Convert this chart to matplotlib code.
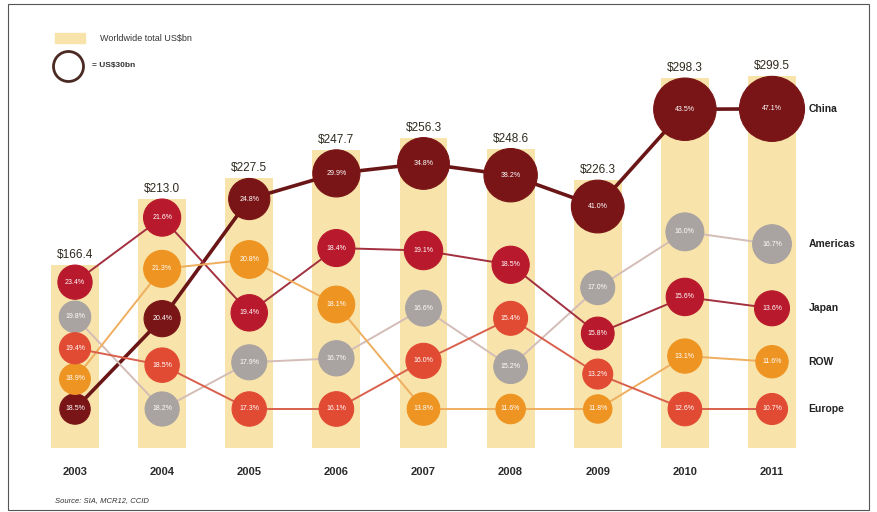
import numpy as np
import matplotlib
matplotlib.use('Agg')
import matplotlib.pyplot as plt
from matplotlib.patches import Rectangle

plt.rcParams['font.family'] = ['Liberation Sans', 'DejaVu Sans']

years = ['2003', '2004', '2005', '2006', '2007', '2008', '2009', '2010', '2011']
totals = [166.4, 213.0, 227.5, 247.7, 256.3, 248.6, 226.3, 298.3, 299.5]

# market share (%) by region
china = [18.5, 20.4, 24.8, 29.9, 34.8, 38.2, 41.0, 43.5, 47.1]
americas = [19.8, 18.2, 17.9, 16.7, 16.6, 15.2, 17.0, 16.0, 16.7]
japan = [23.4, 21.6, 19.4, 18.4, 19.1, 18.5, 15.8, 15.6, 13.6]
row = [18.9, 21.3, 20.8, 18.1, 13.8, 11.6, 11.8, 13.1, 11.6]
europe = [19.4, 18.5, 17.3, 16.1, 16.0, 15.4, 13.2, 12.6, 10.7]

regions = ['China', 'Americas', 'Japan', 'ROW', 'Europe']
shares = {'China': china, 'Americas': americas, 'Japan': japan,
          'ROW': row, 'Europe': europe}
colors = {'China': '#7A1517', 'Americas': '#A9A3A1', 'Japan': '#B9192C',
          'ROW': '#EE9422', 'Europe': '#E24B33'}
line_colors = {'China': '#6B1616', 'Americas': '#D3BDB6', 'Japan': '#A3303F',
               'ROW': '#EFAE5E', 'Europe': '#D9604C'}

W, H, DPI = 877, 512, 100
fig = plt.figure(figsize=(W / DPI, H / DPI), dpi=DPI)
ax = fig.add_axes([0, 64 / H, 1, 448 / H])

# layout: pixels per x unit / per US$bn
px_x, x0 = 87.125, 75
px_bn, base = 1.418, 37.4
ax.set_xlim(-x0 / px_x, (W - x0) / px_x)
ax.set_ylim(base, base + 448 / px_bn)
ax.axis('off')

x = np.arange(len(years))
ax.bar(x, totals, width=0.55, color='#F8E3AA', zorder=1)

# bubble area proportional to US$bn; legend circle = US$30bn
r30 = 15.0
s30 = (2 * r30 * 72 / DPI) ** 2

ycent = {r: np.zeros(len(years)) for r in regions}
for i in range(len(years)):
    vals = np.array([shares[r][i] for r in regions])
    order = np.argsort(-vals, kind='stable')
    bn = vals * totals[i] / 100
    rpx = r30 * np.sqrt(bn / 30)
    top = totals[i] - rpx[order[0]] / px_bn
    bot = base + 39 / px_bn
    sv = vals[order]
    gaps = sv[:-1] + sv[1:]
    pos = top - np.concatenate([[0], np.cumsum(gaps)]) / gaps.sum() * (top - bot)
    for k, j in enumerate(order):
        ycent[regions[j]][i] = pos[k]

for r in regions:
    lw = 2.6 if r == 'China' else 1.4
    ax.plot(x, ycent[r], color=line_colors[r], lw=lw, zorder=2,
            solid_capstyle='round')

for r in regions:
    bn = np.array(shares[r]) * np.array(totals) / 100
    ax.scatter(x, ycent[r], s=s30 * bn / 30, color=colors[r],
               edgecolors=colors[r], linewidths=0.8, zorder=3)
    for i in range(len(years)):
        ax.text(x[i], ycent[r][i], f'{shares[r][i]:.1f}%', color='white',
                fontsize=5, ha='center', va='center', zorder=4)

for i in range(len(years)):
    ax.text(x[i], totals[i] + 10 / px_bn, f'${totals[i]:.1f}', color='#2F2A1E',
            fontsize=8.5, ha='center', va='center')
    ax.text(x[i], base - 24 / px_bn, years[i], color='#2B2B2B', fontsize=8,
            fontweight='bold', ha='center', va='center', clip_on=False)

for r in regions:
    ax.text(8.42, ycent[r][-1], r, color='#222222', fontsize=7.5,
            fontweight='bold', ha='left', va='center')

# legend
fig.patches.append(Rectangle((55 / W, 1 - 43 / H), 30 / W, 10 / H,
                             transform=fig.transFigure, color='#F8E3AA'))
fig.text(100 / W, 1 - 39 / H, 'Worldwide total US$bn', fontsize=6.5,
         color='#333333', va='center')
ax.scatter([68 / W], [1 - 66 / H], s=s30, transform=fig.transFigure,
           facecolor='white', edgecolor='#4A2A22', linewidths=2, clip_on=False)
fig.text(92 / W, 1 - 66 / H, '= US$30bn', fontsize=6, color='#333333',
         fontweight='bold', va='center')

fig.text(55 / W, 1 - 501 / H, 'Source: SIA, MCR12, CCID', fontsize=5.5,
         style='italic', color='#333333', va='center')

# outer frame
fig.patches.append(Rectangle((8 / W, 2 / H), 861 / W, 506 / H,
                             transform=fig.transFigure, fill=False,
                             edgecolor='#555555', lw=0.8))

fig.savefig('out.png', dpi=DPI)
